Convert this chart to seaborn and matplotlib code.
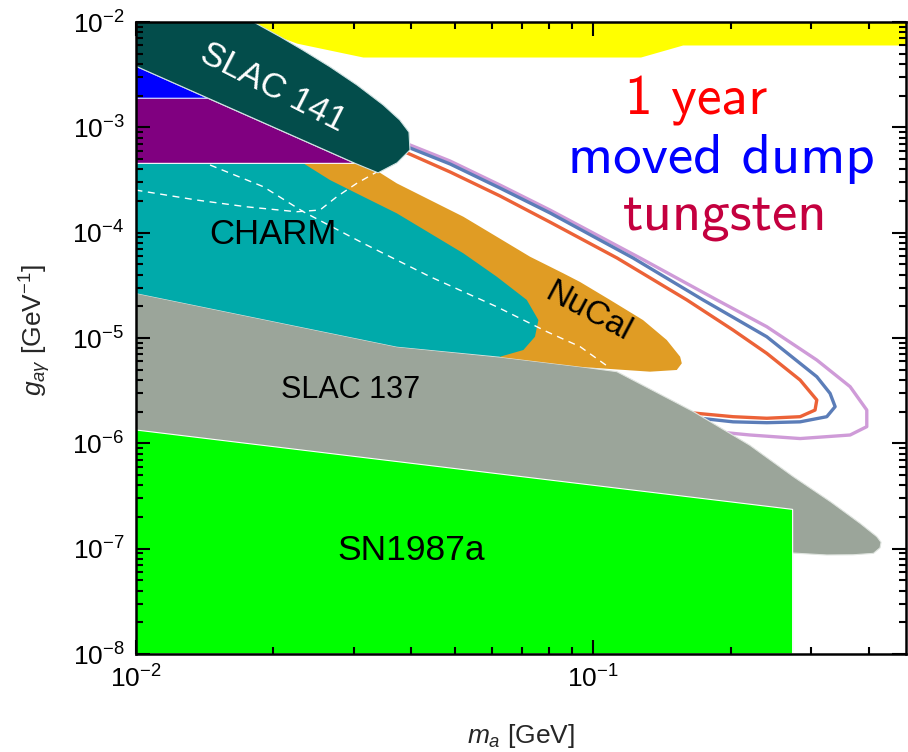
import numpy as np
import pandas as pd
import matplotlib
matplotlib.use("Agg")
import matplotlib.pyplot as plt
import seaborn as sns
from matplotlib.ticker import LogLocator, FuncFormatter, NullFormatter

# ---------------- data (m_a in GeV, g_ay in GeV^-1) ----------------
# beam-dump exclusion at the top (yellow)
yellow_m = [0.0169, 0.0225, 0.0314, 0.127, 0.157, 0.483]
yellow_g_low = [1e-2, 6.3e-3, 4.65e-3, 4.65e-3, 6.05e-3, 6.05e-3]

slac141_m = [0.01, 0.0181, 0.0207, 0.0232, 0.0266, 0.0305, 0.0348, 0.0378, 0.0396,
             0.0398, 0.0373, 0.0339, 0.0302, 0.01]
slac141_g = [1e-2, 1e-2, 7.25e-3, 5.42e-3, 3.76e-3, 2.52e-3, 1.63e-3, 1.175e-3, 9.0e-4,
             6.1e-4, 4.6e-4, 3.7e-4, 4.55e-4, 3.82e-3]

blue_m = [0.01, 0.0144, 0.01]
blue_g = [3.82e-3, 1.89e-3, 1.89e-3]

purple_m = [0.01, 0.0144, 0.0302, 0.01]
purple_g = [1.89e-3, 1.89e-3, 4.55e-4, 4.55e-4]

charm_m = [0.01, 0.02327, 0.02661, 0.03147, 0.03724, 0.04404, 0.05206, 0.06159, 0.07163,
           0.07595, 0.07465, 0.07042, 0.06262, 0.03724, 0.01]
charm_g = [4.555e-4, 4.555e-4, 3.16e-4, 2.195e-4, 1.527e-4, 9.86e-5, 6.37e-5, 3.82e-5, 2.30e-5,
           1.48e-5, 1.028e-5, 7.69e-6, 6.64e-6, 8.27e-6, 2.67e-5]

nucal_m = [0.03394, 0.03724, 0.04404, 0.05206, 0.06159, 0.07283, 0.0861, 0.0937, 0.1089,
           0.1286, 0.1449, 0.155, 0.1563, 0.1524, 0.1332, 0.1089, 0.0951, 0.0626,
           0.0566, 0.0378, 0.0229, 0.0229, 0.0297]
nucal_g = [3.79e-4, 2.94e-4, 2.04e-4, 1.417e-4, 9.15e-5, 5.91e-5, 4.11e-5, 3.40e-5, 2.30e-5,
           1.48e-5, 9.57e-6, 6.64e-6, 5.75e-6, 4.97e-6, 4.79e-6, 5.08e-6, 5.30e-6, 6.6e-6,
           2.3e-5, 8.5e-5, 3.53e-4, 4.9e-4, 4.9e-4]

slac137_m = [0.01, 0.03724, 0.0626, 0.0951, 0.1127, 0.1657, 0.2200, 0.2741, 0.3300, 0.3834,
             0.4171, 0.4260, 0.4239, 0.4101, 0.3700, 0.3242, 0.273, 0.273, 0.01]
slac137_g = [2.67e-5, 8.27e-6, 6.6e-6, 5.30e-6, 4.79e-6, 2.0e-6, 9.6e-7, 4.82e-7, 2.8e-7, 1.74e-7,
             1.30e-7, 1.15e-7, 1.02e-7, 9.03e-8, 8.75e-8, 8.71e-8, 9.09e-8, 1e-8, 1e-8]

sn_m = [0.01, 0.273, 0.273, 0.01]
sn_g = [1.34e-6, 2.36e-7, 1e-8, 1e-8]

# projected sensitivities
year_m = [0.03882, 0.04869, 0.06262, 0.0805, 0.1128, 0.1603, 0.2023, 0.2397, 0.2835, 0.3083,
          0.3056, 0.2835, 0.2397, 0.2023, 0.1657, 0.155]
year_g = [5.83e-4, 3.77e-4, 2.23e-4, 1.26e-4, 5.75e-5, 2.30e-5, 1.19e-5, 7.15e-6, 3.99e-6, 2.58e-6,
          2.07e-6, 1.79e-6, 1.73e-6, 1.79e-6, 1.94e-6, 1.98e-6]

moved_m = [0.03882, 0.04869, 0.06262, 0.0805, 0.1223, 0.1739, 0.2397, 0.3083, 0.3296, 0.3381,
           0.3242, 0.2835, 0.2397, 0.2023, 0.1714, 0.159]
moved_g = [6.65e-4, 4.49e-4, 2.65e-4, 1.54e-4, 5.75e-5, 2.30e-5, 1.028e-5, 4.29e-6, 2.98e-6, 2.23e-6,
           1.79e-6, 1.60e-6, 1.57e-6, 1.60e-6, 1.73e-6, 1.78e-6]

tung_m = [0.03882, 0.04869, 0.06262, 0.0805, 0.1267, 0.1864, 0.2397, 0.3083, 0.3646, 0.3965,
          0.3965, 0.3646, 0.2835, 0.2203, 0.196, 0.182]
tung_g = [7.10e-4, 4.79e-4, 2.83e-4, 1.64e-4, 5.75e-5, 2.30e-5, 1.28e-5, 6.18e-6, 3.45e-6, 2.07e-6,
          1.44e-6, 1.20e-6, 1.11e-6, 1.20e-6, 1.26e-6, 1.31e-6]

# dashed white contours
dash1_m = [0.01455, 0.01903, 0.02327, 0.03147, 0.04404, 0.06159, 0.0792, 0.0937, 0.1089]
dash1_g = [4.39e-4, 2.73e-4, 1.58e-4, 7.92e-5, 3.82e-5, 1.98e-5, 1.15e-5, 8.27e-6, 5.19e-6]
dash2_m = [0.01, 0.01361, 0.01749, 0.0225, 0.0253, 0.02754, 0.03045, 0.03424]
dash2_g = [2.54e-4, 2.04e-4, 1.76e-4, 1.58e-4, 1.64e-4, 2.195e-4, 2.94e-4, 3.93e-4]

# ---------------- style ----------------
sns.set_theme(style="ticks")
plt.rcParams["font.family"] = ["Liberation Sans", "DejaVu Sans"]
plt.rcParams.update({
    "mathtext.fontset": "custom",
    "mathtext.rm": "Liberation Sans",
    "mathtext.it": "Liberation Sans:italic",
    "mathtext.bf": "Liberation Sans:bold",
    "mathtext.sf": "Liberation Sans",
})

fig = plt.figure(figsize=(9.08, 7.52), dpi=100)
ax = fig.add_axes([135.5 / 908, 98 / 752, 770.5 / 908, 632 / 752])
ax.set_xscale("log")
ax.set_yscale("log")

# sensitivity lines (under the filled regions)
for mm, gg, col in [(tung_m, tung_g, "#CF9BD8"), (moved_m, moved_g, "#5B7DB8"),
                    (year_m, year_g, "#EC6237")]:
    df = pd.DataFrame({"m": mm, "g": gg})
    sns.lineplot(data=df, x="m", y="g", sort=False, estimator=None, color=col,
                 lw=2.4, ax=ax, zorder=1.5, legend=False)

ax.fill(slac137_m, slac137_g, color="#9BA59A", ec="#dfe4df", lw=0.8, zorder=2.0)
ax.fill(nucal_m, nucal_g, color="#E09C24", lw=0, zorder=2.1)
ax.fill(charm_m, charm_g, color="#00AAAA", lw=0, zorder=2.2)
ax.fill(sn_m, sn_g, color="#00FF00", ec="white", lw=0.8, zorder=2.3)
ax.plot(dash1_m, dash1_g, color="white", lw=1.0, ls=(0, (5, 4)), zorder=2.35)
ax.plot(dash2_m, dash2_g, color="white", lw=1.0, ls=(0, (5, 4)), zorder=2.35)
ax.fill(purple_m, purple_g, color="#800080", ec="white", lw=0.8, zorder=2.4)
ax.fill(blue_m, blue_g, color="#0000FF", ec="#ccccff", lw=0.8, zorder=2.4)
ax.fill(slac141_m, slac141_g, color="#034D4B", ec="#d0e2e2", lw=0.8, zorder=2.45)
ax.fill_between(yellow_m, yellow_g_low, [1e-2] * len(yellow_m), color="#FFFF00",
                lw=0, zorder=2.44)

ax.set_xlim(0.01, 0.483)
ax.set_ylim(1e-8, 1e-2)

# labels inside plot
ax.text(0.01998, 2.41e-3, "SLAC 141", color="white", fontsize=25, rotation=-27,
        ha="center", va="center", zorder=5)
ax.text(0.02, 9.71e-5, "CHARM", color="black", fontsize=25, ha="center", va="center", zorder=5)
ax.text(0.0975, 1.77e-5, "NuCal", color="black", fontsize=24, rotation=-28,
        ha="center", va="center", zorder=5)
ax.text(0.02944, 3.21e-6, "SLAC 137", color="black", fontsize=22, ha="center", va="center", zorder=5)
ax.text(0.04002, 9.71e-8, "SN1987a", color="black", fontsize=25.5, ha="center", va="center", zorder=5)

ax.text(0.168, 1.31e-3, "1 year", color="#FF0000", fontsize=40, family="cmss10",
        ha="center", va="baseline", zorder=5)
ax.text(0.1905, 3.68e-4, "moved dump", color="#0000FF", fontsize=41, family="cmss10",
        ha="center", va="baseline", zorder=5)
ax.text(0.1943, 1.06e-4, "tungsten", color="#C4003F", fontsize=41, family="cmss10",
        ha="center", va="baseline", zorder=5)

# axes styling
fmt = FuncFormatter(lambda v, p: r"$10^{%d}$" % int(round(np.log10(v))))
ax.xaxis.set_major_locator(LogLocator(base=10, numticks=20))
ax.yaxis.set_major_locator(LogLocator(base=10, numticks=20))
ax.xaxis.set_minor_locator(LogLocator(base=10, subs=np.arange(2, 10), numticks=50))
ax.yaxis.set_minor_locator(LogLocator(base=10, subs=np.arange(2, 10), numticks=50))
ax.xaxis.set_major_formatter(fmt)
ax.yaxis.set_major_formatter(fmt)
ax.xaxis.set_minor_formatter(NullFormatter())
ax.yaxis.set_minor_formatter(NullFormatter())
ax.tick_params(which="both", direction="in", top=True, right=True, colors="black",
               labelsize=19, width=1.5)
ax.tick_params(which="major", length=10, pad=8)
ax.tick_params(which="minor", length=5)
for s in ax.spines.values():
    s.set_linewidth(1.8)
    s.set_color("black")
    s.set_zorder(10)
ax.xaxis.set_zorder(10)
ax.yaxis.set_zorder(10)

ax.set_xlabel(r"$m_a$ [GeV]", fontsize=19)
ax.set_ylabel(r"$g_{a\gamma}$ [GeV$^{-1}$]", fontsize=19)
ax.xaxis.set_label_coords(0.5, -0.108)
ax.yaxis.set_label_coords(-0.107, 0.513)

fig.savefig("out.png", dpi=100)
